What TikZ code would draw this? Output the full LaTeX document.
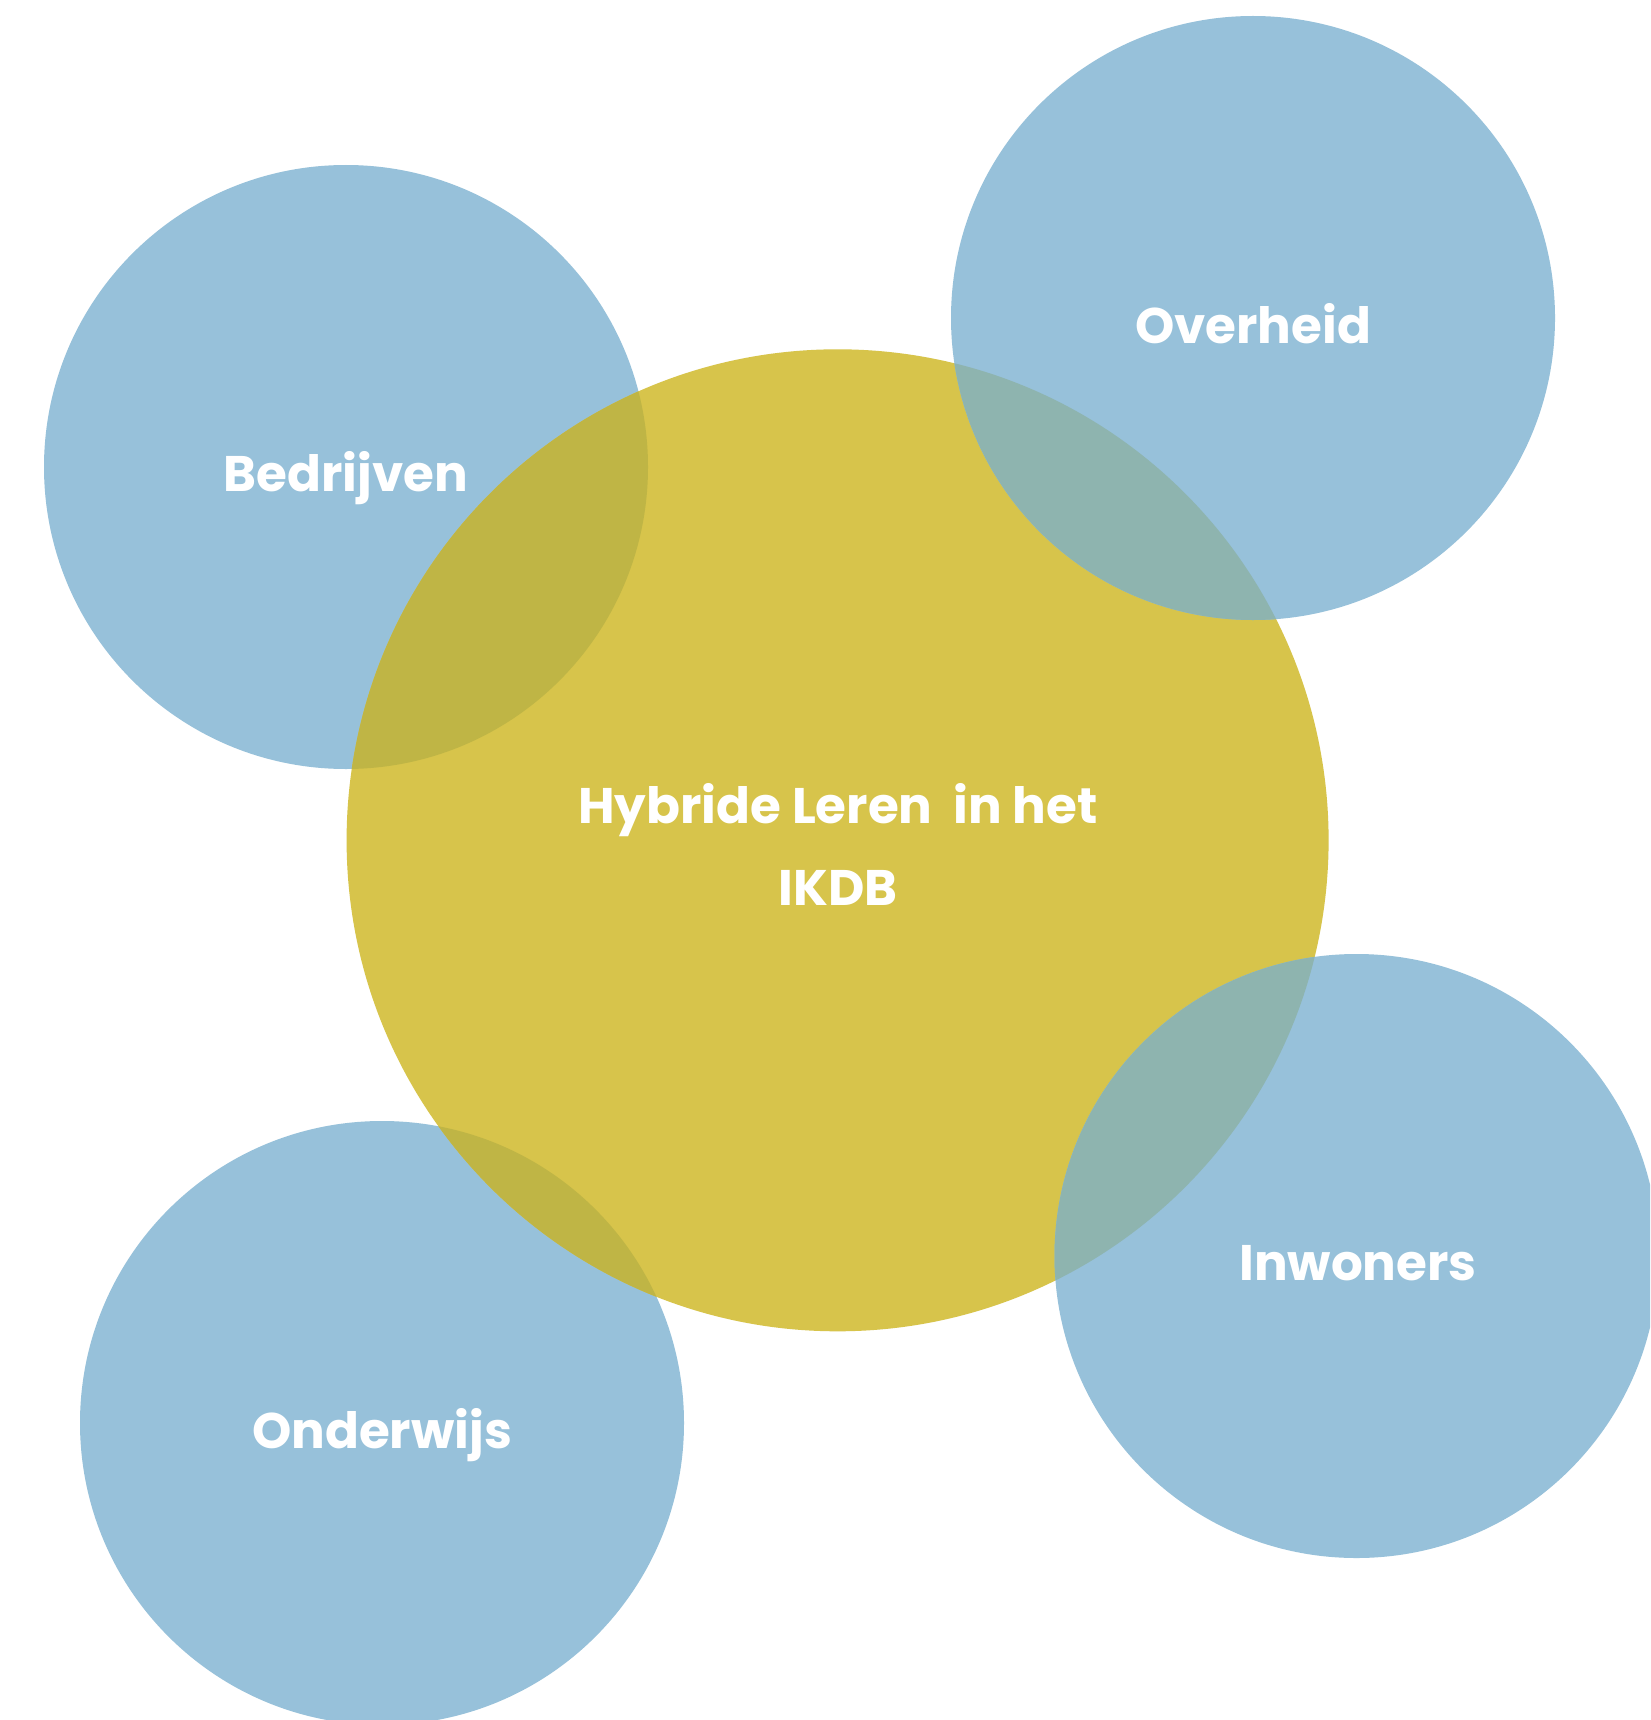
\documentclass[tikz,border=0pt]{standalone}
\usepackage{fontspec}
\setmainfont{Poppins}
\definecolor{cblue}{HTML}{97C1DA}
\definecolor{cyel}{HTML}{D7C44B}
\definecolor{colive}{HTML}{BFB545}
\definecolor{cgrey}{HTML}{8EB4AF}
\tikzset{
  bubble/.style={circle, minimum size=604pt, inner sep=0pt, draw=none, fill=cblue},
  core/.style={circle, minimum size=982pt, inner sep=0pt, draw=none, fill=cyel},
  lab/.style={text=white, font=\fontsize{50}{80}\selectfont\bfseries, align=center, inner sep=0pt}
}
\begin{document}
\begin{tikzpicture}[x=1pt,y=-1pt]
\useasboundingbox (0,0) rectangle (1650,1720);
\clip (0,0) rectangle (1650,1720);
\fill[white] (0,0) rectangle (1650,1720);
\node[bubble] (bed) at (346,467) {};
\node[bubble] (ond) at (382,1423) {};
\node[core] (core) at (837.6,840.3) {};
\node[bubble] (ovh) at (1253,318) {};
\node[bubble] (inw) at (1356.5,1256) {};
\begin{scope}
  \clip (346,467) circle (302);
  \fill[colive] (837.6,840.3) circle (491);
\end{scope}
\begin{scope}
  \clip (382,1423) circle (302);
  \fill[colive] (837.6,840.3) circle (491);
\end{scope}
\begin{scope}
  \clip (1253,318) circle (302);
  \fill[cgrey] (837.6,840.3) circle (491);
\end{scope}
\begin{scope}
  \clip (1356.5,1256) circle (302);
  \fill[cgrey] (837.6,840.3) circle (491);
\end{scope}
\node[lab, anchor=base] (tbed) at (346,491) {Bedrijven};
\node[lab, anchor=base] (tovh) at (1253,343) {Overheid};
\node[lab, anchor=base] (tinw) at (1358,1280) {Inwoners};
\node[lab, anchor=base] (tond) at (382,1448) {Onderwijs};
\node[lab, anchor=base] (tcore1) at (838,823) {Hybride Leren\ \ in het};
\node[lab, anchor=base] (tcore2) at (838,905) {IKDB};
\end{tikzpicture}
\end{document}
